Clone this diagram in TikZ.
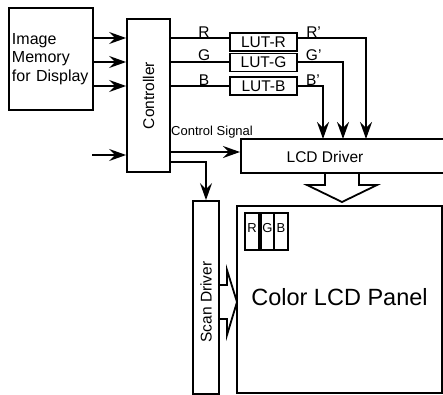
\documentclass[tikz,border=0pt]{standalone}
\usepackage{fontspec}
\setmainfont{Liberation Sans}
\usetikzlibrary{arrows.meta,calc}
\tikzset{
  blk/.style={draw, line width=1.8pt, inner sep=0pt},
  wire/.style={line width=1.8pt},
  arr/.style={wire, -{Stealth[length=17pt,width=12pt,inset=6pt]}},
  small/.style={font=\fontsize{15.5}{17}\selectfont},
  tiny/.style={font=\fontsize{13}{15}\selectfont}
}
\begin{document}
\begin{tikzpicture}[x=1pt,y=-1pt,font=\fontsize{15.5}{18.5}\selectfont]
\useasboundingbox (0,0) rectangle (443,394);
\begin{scope}
\clip (0,0) rectangle (443,394);

% memory and controller
\node[blk, minimum width=84, minimum height=102, text width=78, align=left,
  font=\fontsize{16}{18.5}\selectfont] (mem) at (51,59) {Image\\Memory\\for Display};
\node[blk, minimum width=43, minimum height=153] (ctl) at (148.5,95.5) {\rotatebox{90}{Controller}};
\foreach \y in {38,62,86}
  \draw[arr] (mem.east |- 0,\y) -- (ctl.west |- 0,\y);
\coordinate (in) at (92,155);
\draw[arr] (in) -- (ctl.west |- in);

% look-up tables
\foreach \n/\y in {R/42,G/62.5,B/86}
  \node[blk, small, minimum width=67, minimum height=18] (lut\n) at (263.5,\y) {LUT-\n};
\foreach \n/\y/\x/\p in {R/38/366/.23,G/62/343/.35,B/86/323/.6} {
  \draw[wire] (ctl.east |- 0,\y) -- node[small, pos=.57, above, inner sep=0pt] {\n} (lut\n.west |- 0,\y);
  \draw[arr] (lut\n.east |- 0,\y) -- node[small, pos=\p, above, inner sep=0pt] {\n{\char"27}} (\x,\y) -- (\x,139);
}

% drivers
\node[blk, minimum width=206, minimum height=34, anchor=west] (drv) at (240,156) {};
\node at (325,157) {LCD Driver};
\node[blk, minimum width=26, minimum height=193] (scan) at (206,297.5) {};
\node at (206,302) {\rotatebox{90}{Scan Driver}};
\node[tiny, anchor=south west, inner sep=1pt] (sig) at (170,139) {Control Signal};
\draw[arr] (ctl.east |- 0,152) -- (drv.west |- 0,152);
\draw[arr] (ctl.east |- 0,162) -| (scan.north);

% panel
\node[blk, minimum width=205, minimum height=187] (pnl) at (339.5,299.5) {};
\node[font=\fontsize{23.5}{26}\selectfont] at (339.5,297) {Color LCD Panel};
\foreach \n/\x/\w in {R/252/14,G/267.5/13,B/281/14}
  \node[blk, tiny, minimum width=\w, text height=19, text depth=18] (px\n) at (\x,231.5) {\n};

% wide arrows
\draw[wire, line join=miter] (drv.south -| 325,0) -- (325,185) -- (307,185) -- (342,202)
  -- (377,185) -- (359,185) -- (drv.south -| 359,0);
\draw[wire, line join=miter] (scan.east |- 0,285) -- (227,285) -- (227,270) -- (237,302)
  -- (227,335) -- (227,319) -- (scan.east |- 0,319);
\end{scope}
\end{tikzpicture}
\end{document}
